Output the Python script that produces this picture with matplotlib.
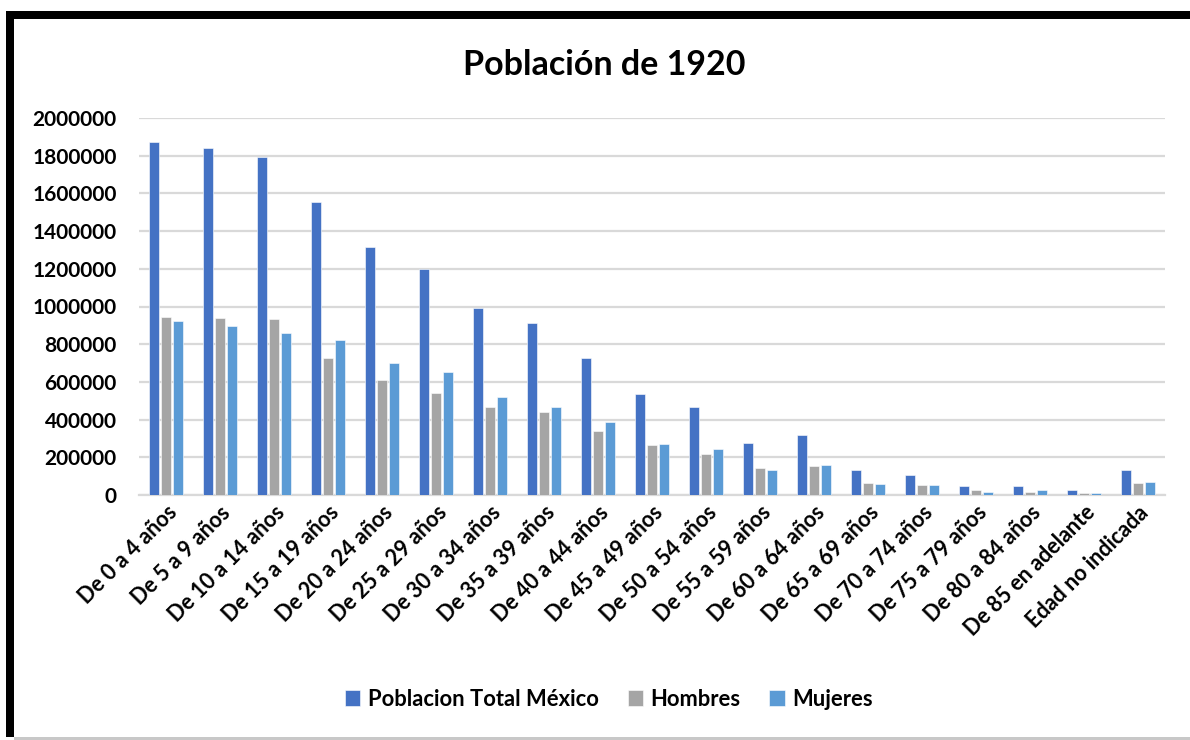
import matplotlib
matplotlib.use("Agg")
import matplotlib.pyplot as plt
import numpy as np
from matplotlib.patches import Rectangle

plt.rcParams['font.family'] = ['Lato', 'DejaVu Sans']
plt.rcParams['font.weight'] = 'bold'

categorias = ["De 0 a 4 años", "De 5 a 9 años", "De 10 a 14 años", "De 15 a 19 años",
              "De 20 a 24 años", "De 25 a 29 años", "De 30 a 34 años", "De 35 a 39 años",
              "De 40 a 44 años", "De 45 a 49 años", "De 50 a 54 años", "De 55 a 59 años",
              "De 60 a 64 años", "De 65 a 69 años", "De 70 a 74 años", "De 75 a 79 años",
              "De 80 a 84 años", "De 85 en adelante", "Edad no indicada"]

total = [1873000, 1839000, 1791000, 1553000, 1314000, 1198000, 992000, 912000,
         726000, 538000, 469000, 277000, 318000, 135000, 106000, 46000, 46000,
         25000, 135000]
hombres = [946000, 939000, 932000, 726000, 612000, 541000, 469000, 440000,
           337000, 265000, 217000, 142000, 154000, 66000, 52000, 25000, 18000,
           11000, 66000]
mujeres = [925000, 896000, 857000, 822000, 699000, 651000, 522000, 469000,
           385000, 272000, 243000, 135000, 161000, 59000, 52000, 18000, 25000,
           11000, 68000]

series = [("Poblacion Total México", total, "#4472C4"),
          ("Hombres", hombres, "#A5A5A5"),
          ("Mujeres", mujeres, "#5B9BD5")]

W, H = 1190, 740
fig = plt.figure(figsize=(W / 100, H / 100), dpi=100)
ax = fig.add_axes([139 / W, (H - 495) / H, 1026 / W, 377 / H])

x = np.arange(len(categorias))
bw = 0.185
step = 0.222
for i, (nombre, vals, col) in enumerate(series):
    ax.bar(x + (i - 1) * step, vals, width=bw, color=col, edgecolor='white',
           linewidth=0.4, label=nombre, zorder=3)

ax.set_xlim(-0.5, len(categorias) - 0.5)
ax.set_ylim(0, 2000000)
ax.set_yticks(np.arange(0, 2000001, 200000))
ax.set_yticklabels([str(v) for v in range(0, 2000001, 200000)], fontsize=15, fontweight='bold')
ax.set_xticks(x)
ax.set_xticklabels(categorias, rotation=45, ha='right', rotation_mode='anchor',
                   fontsize=15.5, fontweight='bold')
ax.tick_params(axis='both', length=0)
ax.tick_params(axis='y', pad=16)
ax.tick_params(axis='x', pad=5)
ax.grid(axis='y', color='#D9D9D9', linewidth=1.6, zorder=0)
for s in ['top', 'right', 'left']:
    ax.spines[s].set_visible(False)
ax.spines['bottom'].set_color('#D9D9D9')
ax.spines['bottom'].set_linewidth(1.6)

fig.text(604 / W, 1 - 65 / H, "Población de 1920", ha='center', va='center',
         fontsize=24.5, fontweight='bold')

fig.legend(loc='center', bbox_to_anchor=(609 / W, 1 - 699 / H), ncol=3, frameon=False,
           handlelength=0.7, handleheight=0.7, columnspacing=1.3,
           handletextpad=0.35, prop={'weight': 'bold', 'size': 15.8})

# marco negro de la captura
fig.add_artist(Rectangle((6 / W, 3 / H), 8 / W, 726 / H, transform=fig.transFigure,
                         color='black', lw=0))
fig.add_artist(Rectangle((6 / W, 1 - 19 / H), 1 - 6 / W, 8 / H, transform=fig.transFigure,
                         color='black', lw=0))
fig.add_artist(Rectangle((14 / W, 0), 1, 3 / H, transform=fig.transFigure,
                         color='#C8C8C8', lw=0))

fig.savefig("out.png", dpi=100)
